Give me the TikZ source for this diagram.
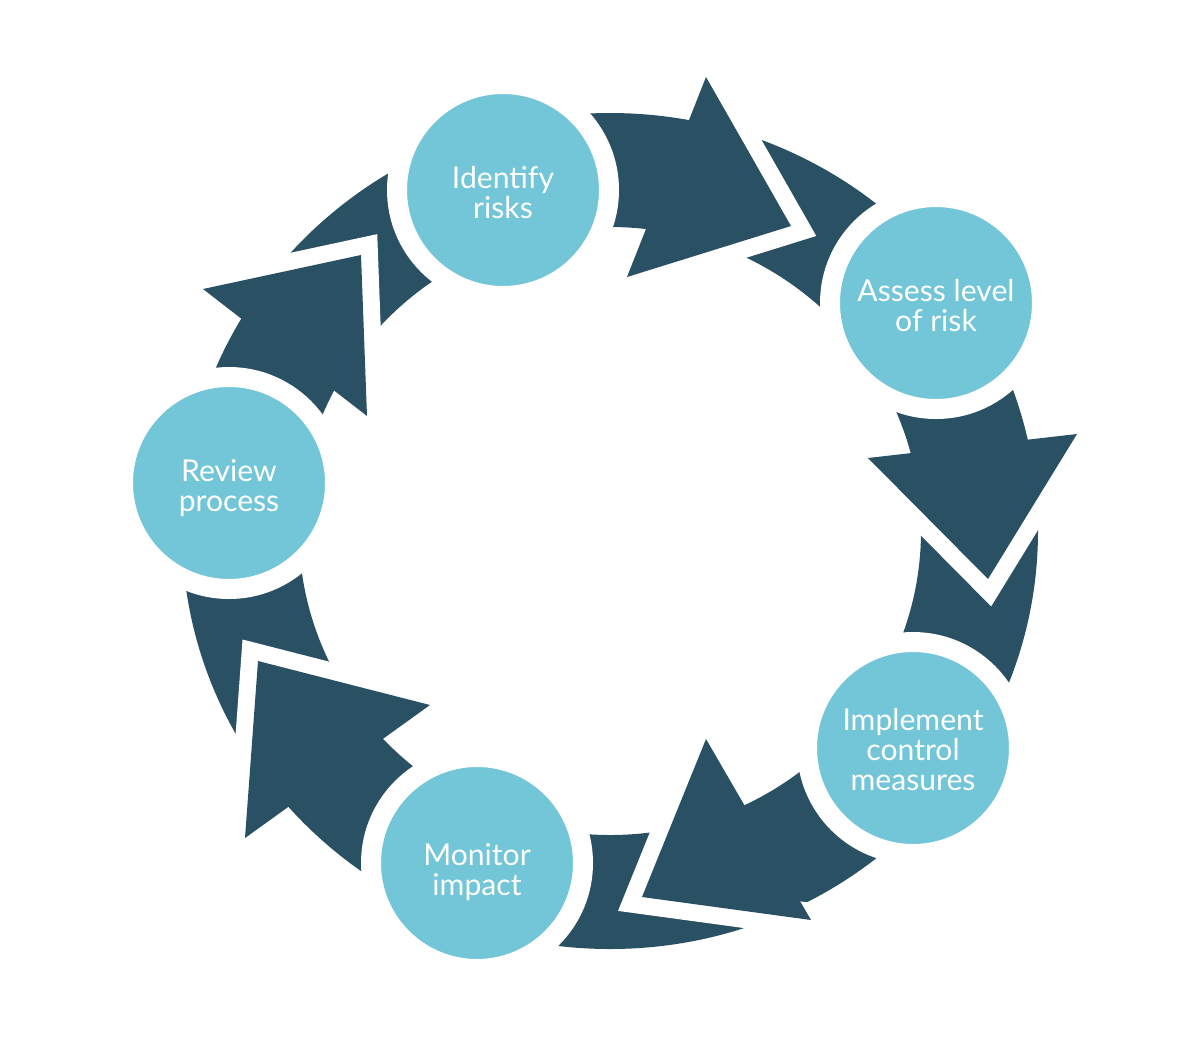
\documentclass[tikz,border=0pt]{standalone}
\usepackage{fontspec}
\setmainfont{Lato}
\tikzset{every picture/.style={line width=0.75pt}}

\begin{document}
\begin{tikzpicture}[x=0.75pt,y=0.75pt,yscale=-1,xscale=1,
    ringband/.style={fill={rgb, 255:red, 42; green, 80; blue, 100 }},
    headgap/.style={draw=white, line width=25.5pt, miter limit=10},
    stepcircle/.style={circle, fill={rgb, 255:red, 114; green, 198; blue, 216 }, draw=white, line width=15pt, minimum size=159pt, inner sep=0pt},
    steptext/.style={inner sep=0pt, text=white, align=center, font=\fontsize{22.6}{22.5}\selectfont}]
        \useasboundingbox (0,0) rectangle (1198,1047);

        %Shape: Ring
        \fill [ringband, even odd rule] (610,531) ellipse [x radius=428, y radius=418] (610,531) ellipse [x radius=311, y radius=304];

        %Shape: Circle
        \node [stepcircle] (identify) at (503,190) {};
        %Shape: Circle
        \node [stepcircle] (assess) at (936,303) {};
        %Shape: Circle
        \node [stepcircle] (implement) at (913,748) {};
        %Shape: Circle
        \node [stepcircle] (monitor) at (477,863) {};
        %Shape: Circle
        \node [stepcircle] (review) at (229,483) {};

        % Text Node
        \node [steptext] (identifytext) at (503,192.5) {Identify\\risks};
        % Text Node
        \node [steptext] (assesstext) at (936,306) {Assess level\\of risk};
        % Text Node
        \node [steptext] (implementtext) at (913,750) {Implement\\control\\measures};
        % Text Node
        \node [steptext] (monitortext) at (477,872) {Monitor\\impact};
        % Text Node
        \node [steptext] (reviewtext) at (229,488) {Review\\process};

        %Shape: Arrow head identify -> assess
        \draw [headgap] (706,77) -- (791,226) -- (627,277);
        \fill [ringband] (706,77) -- (791,226) -- (627,277) -- cycle;
        %Shape: Arrow head assess -> implement
        \draw [headgap] (1077,434) -- (988,579) -- (868,458);
        \fill [ringband] (1077,434) -- (988,579) -- (868,458) -- cycle;
        %Shape: Arrow head implement -> monitor
        \draw [headgap] (811,920) -- (642,897) -- (706,739);
        \fill [ringband] (811,920) -- (642,897) -- (706,739) -- cycle;
        %Shape: Arrow head monitor -> review
        \draw [headgap] (430,705) -- (258,661) -- (245,838);
        \fill [ringband] (430,705) -- (258,661) -- (245,838) -- cycle;
        %Shape: Arrow head review -> identify
        \draw [headgap] (203,289) -- (361,255) -- (367,416);
        \fill [ringband] (203,289) -- (361,255) -- (367,416) -- cycle;

\end{tikzpicture}
\end{document}
